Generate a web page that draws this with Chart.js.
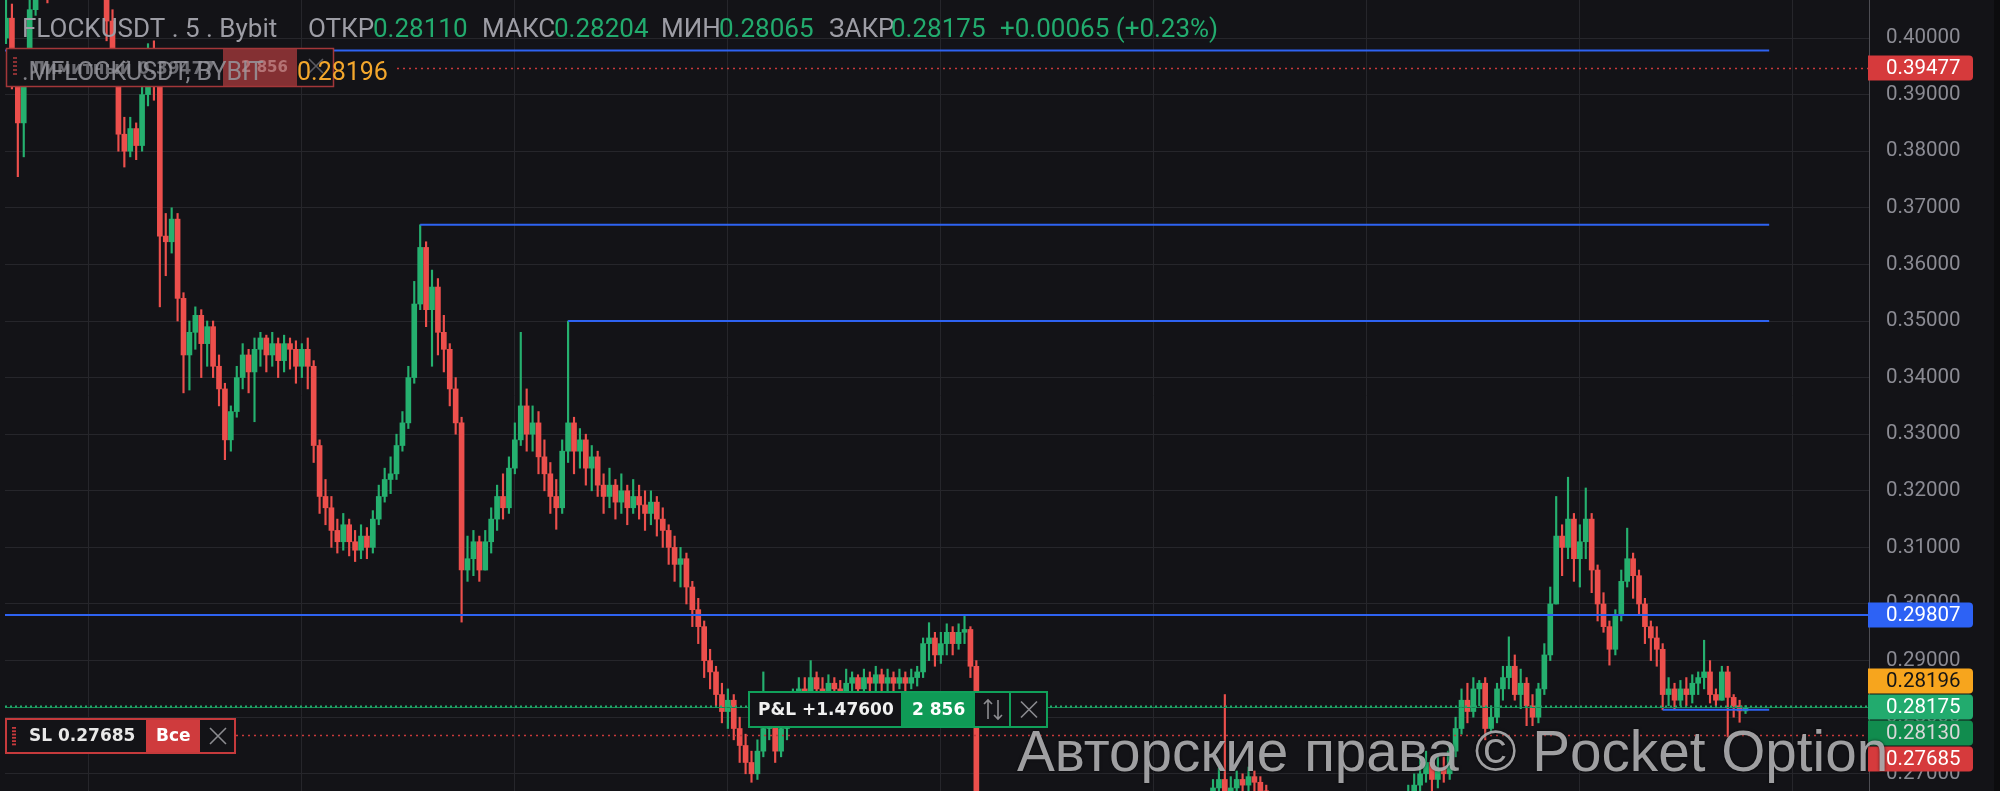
<!DOCTYPE html>
<html>
<head>
<meta charset="utf-8">
<script src="https://cdn.jsdelivr.net/npm/chart.js@4.4.0/dist/chart.umd.min.js"></script>
<style>
  html, body { margin: 0; padding: 0; background: #131317; }
  canvas { display: block; }
</style>
</head>
<body>
<canvas id="chart" width="2000" height="791"></canvas>
<script>
/* FLOCKUSDT candles.
   Prices are stored in units of 0.0001; open of a candle = previous close. */
const FIRST_OPEN = 4000;

const CLOSE = [
  4035, 3930, 3850, 3960, 4050, 4090, 4120, 4085, 4110, 4140,
  4160, 4130, 4150, 4170, 4140, 4120, 4095, 4030, 3960, 3830,
  3800, 3840, 3810, 3900, 3950, 3930, 3650, 3640, 3680, 3540,
  3440, 3480, 3510, 3460, 3490, 3420, 3380, 3290, 3340, 3400,
  3440, 3410, 3450, 3470, 3440, 3460, 3430, 3460, 3450, 3420,
  3450, 3420, 3280, 3190, 3170, 3130, 3110, 3140, 3110, 3095,
  3120, 3100, 3150, 3190, 3220, 3230, 3280, 3320, 3400, 3530,
  3630, 3520, 3560, 3480, 3450, 3380, 3320, 3060, 3080, 3110,
  3060, 3110, 3150, 3190, 3170, 3240, 3290, 3350, 3300, 3320,
  3260, 3230, 3190, 3170, 3270, 3320, 3270, 3290, 3240, 3260,
  3210, 3190, 3210, 3180, 3200, 3170, 3190, 3175, 3160, 3180,
  3150, 3130, 3100, 3070, 3080, 3030, 2990, 2960, 2900, 2880,
  2840, 2810, 2830, 2780, 2750, 2720, 2700, 2740, 2780, 2800,
  2740, 2780, 2800, 2830, 2850, 2840, 2870, 2850, 2840, 2860,
  2850, 2840, 2860, 2870, 2850, 2870, 2860, 2875, 2860, 2870,
  2860, 2870, 2860, 2870, 2880, 2930, 2940, 2910, 2930, 2950,
  2930, 2950, 2955, 2890, 2640, 2620, 2600, 2580, 2590, 2570,
  2560, 2580, 2600, 2590, 2610, 2630, 2620, 2600, 2590, 2610,
  2620, 2640, 2630, 2610, 2600, 2620, 2640, 2650, 2630, 2620,
  2640, 2655, 2650, 2640, 2630, 2650, 2660, 2645, 2635, 2650,
  2660, 2655, 2645, 2660, 2675, 2690, 2650, 2675, 2690, 2680,
  2695, 2685, 2670, 2655, 2640, 2630, 2620, 2610, 2600, 2590,
  2605, 2595, 2580, 2590, 2600, 2610, 2620, 2610, 2625, 2635,
  2630, 2640, 2650, 2645, 2655, 2660, 2650, 2665, 2680, 2700,
  2720, 2690, 2710, 2700, 2740, 2780, 2830, 2810, 2850, 2860,
  2780, 2800, 2850, 2870, 2890, 2840, 2860, 2820, 2800, 2850,
  2910, 3000, 3120, 3100, 3150, 3080, 3110, 3150, 3060, 3000,
  2960, 2920, 2980, 3040, 3080, 3050, 3000, 2960, 2940, 2920,
  2840, 2850, 2830, 2850, 2840, 2860, 2870, 2880, 2840, 2830,
  2880, 2835, 2820, 2811, 2817.5
];

const HIGH = [
  4075, 4060, 3955, 3980, 4090, 4110, 4140, 4130, 4125, 4160,
  4185, 4170, 4170, 4190, 4180, 4150, 4130, 4110, 4050, 3980,
  3860, 3860, 3850, 3920, 3990, 3995, 3940, 3690, 3700, 3690,
  3550, 3500, 3525, 3520, 3500, 3500, 3440, 3390, 3350, 3420,
  3460, 3450, 3470, 3480, 3475, 3480, 3470, 3475, 3470, 3465,
  3460, 3470, 3430, 3290, 3220, 3190, 3150, 3160, 3150, 3130,
  3140, 3135, 3165, 3210, 3240, 3260, 3300, 3340, 3420, 3570,
  3670, 3640, 3590, 3575, 3510, 3460, 3400, 3330, 3120, 3130,
  3120, 3130, 3170, 3210, 3230, 3260, 3320, 3480, 3380, 3350,
  3340, 3290, 3250, 3220, 3290, 3500, 3330, 3310, 3300, 3280,
  3270, 3230, 3240, 3220, 3230, 3210, 3220, 3210, 3200, 3200,
  3190, 3170, 3140, 3120, 3100, 3090, 3040, 3010, 2970, 2920,
  2890, 2860, 2850, 2840, 2800, 2770, 2740, 2760, 2880, 2830,
  2810, 2800, 2820, 2850, 2870, 2870, 2900, 2880, 2870, 2875,
  2870, 2865, 2885, 2880, 2875, 2885, 2880, 2890, 2885, 2885,
  2880, 2885, 2880, 2885, 2890, 2940, 2967, 2950, 2950, 2965,
  2960, 2965, 2980.7, 2960, 2900, 2650, 2635, 2610, 2605, 2600,
  2585, 2595, 2615, 2620, 2625, 2645, 2640, 2630, 2610, 2625,
  2635, 2655, 2650, 2640, 2620, 2635, 2655, 2665, 2660, 2640,
  2655, 2665, 2668, 2660, 2650, 2662, 2668, 2665, 2655, 2662,
  2668, 2668, 2665, 2668, 2690, 2710, 2840, 2695, 2705, 2700,
  2712, 2705, 2695, 2680, 2665, 2650, 2640, 2630, 2620, 2610,
  2620, 2615, 2600, 2605, 2615, 2630, 2640, 2635, 2640, 2650,
  2650, 2655, 2665, 2662, 2668, 2668, 2668, 2680, 2700, 2730,
  2740, 2730, 2730, 2730, 2750, 2800, 2850, 2860, 2870, 2865,
  2870, 2820, 2860, 2890, 2942, 2910, 2885, 2870, 2840, 2860,
  2930, 3030, 3190, 3140, 3224, 3160, 3140, 3205, 3160, 3069,
  3020, 2970, 2990, 3060, 3134, 3090, 3060, 3010, 2970, 2960,
  2930, 2870, 2860, 2865, 2870, 2875, 2880, 2936, 2900, 2850,
  2890, 2890, 2840, 2830, 2820.4
];

const LOW = [
  3990, 3910, 3755, 3790, 3950, 4040, 4080, 4062, 4075, 4100,
  4130, 4110, 4120, 4140, 4120, 4100, 4075, 3995, 3940, 3800,
  3772, 3790, 3785, 3800, 3880, 3890, 3525, 3580, 3620, 3500,
  3373, 3378, 3450, 3400, 3420, 3400, 3350, 3255, 3270, 3330,
  3380, 3373, 3322, 3420, 3410, 3420, 3400, 3410, 3415, 3390,
  3400, 3380, 3250, 3160, 3140, 3100, 3090, 3095, 3085, 3075,
  3080, 3080, 3090, 3140, 3180, 3195, 3220, 3270, 3310, 3390,
  3520, 3490, 3420, 3440, 3410, 3350, 3300, 2968, 3040, 3050,
  3040, 3060, 3090, 3130, 3150, 3160, 3230, 3280, 3270, 3270,
  3230, 3200, 3160, 3132, 3160, 3250, 3230, 3240, 3210, 3200,
  3190, 3160, 3170, 3150, 3160, 3140, 3160, 3150, 3130, 3140,
  3120, 3100, 3070, 3040, 3030, 3000, 2960, 2930, 2870, 2850,
  2820, 2790, 2780, 2760, 2720, 2700, 2685, 2690, 2730, 2760,
  2720, 2730, 2760, 2790, 2810, 2810, 2830, 2820, 2810, 2820,
  2820, 2810, 2830, 2840, 2830, 2840, 2830, 2840, 2835, 2840,
  2840, 2850, 2845, 2850, 2855, 2870, 2900, 2890, 2895, 2910,
  2910, 2920, 2930, 2870, 2620, 2600, 2585, 2565, 2570, 2555,
  2545, 2550, 2570, 2575, 2580, 2600, 2605, 2590, 2575, 2585,
  2600, 2610, 2615, 2600, 2585, 2595, 2615, 2630, 2620, 2605,
  2615, 2630, 2635, 2625, 2615, 2625, 2640, 2630, 2620, 2630,
  2640, 2640, 2630, 2640, 2650, 2665, 2630, 2640, 2660, 2665,
  2670, 2665, 2650, 2640, 2625, 2615, 2600, 2590, 2580, 2570,
  2580, 2575, 2560, 2570, 2580, 2590, 2600, 2595, 2600, 2615,
  2615, 2620, 2630, 2630, 2635, 2640, 2635, 2645, 2655, 2665,
  2685, 2665, 2675, 2685, 2690, 2730, 2770, 2790, 2800, 2820,
  2760, 2775, 2790, 2830, 2850, 2830, 2815, 2785, 2785, 2790,
  2840, 2900, 3000, 3050, 3080, 3040, 3030, 3080, 3020, 2970,
  2950, 2892, 2910, 2970, 3030, 3010, 2980, 2930, 2900, 2890,
  2813, 2820, 2815, 2820, 2820, 2825, 2840, 2850, 2825, 2820,
  2830, 2765, 2800, 2791, 2806.5
];

/* Axis ticks (price) and vertical grid marks (candle index, every 6 hours) */
const Y_TICKS = [0.27, 0.28, 0.29, 0.30, 0.31, 0.32, 0.33, 0.34, 0.35, 0.36, 0.37, 0.38, 0.39, 0.40];
const X_GRID  = [14, 50, 86, 122, 158, 194, 230, 266, 302];

/* Horizontal levels drawn on the chart (price, from / to candle index) */
const LEVEL_PRICE = [0.39778, 0.36700, 0.35000, 0.29807, 0.28130];
const LEVEL_FROM  = [-1, 70, 95, -1, 280];
const LEVEL_TO    = [298, 298, 298, 330, 298];

/* Orders / position */
const LIMIT_PRICE = 0.39477;
const SL_PRICE    = 0.27685;
const ENTRY_PRICE = 0.28196;
const QTY         = '2 856';
const PNL         = '+1.47600';
const TAG_PRICES  = [0.39477, 0.29807, 0.28196, 0.28175, 0.28130, 0.27685];

const SYMBOL = 'FLOCKUSDT . 5 . Bybit';
const LAST = { open: 0.28110, high: 0.28204, low: 0.28065, close: 0.28175 };

/* ── colours ─────────────────────────────────────────────── */
const BG = '#131317';
const GRID = '#26262b';
const UP = '#25b06f';
const DOWN = '#ec4f4c';
const BLUE = '#2e63f2';

/* ── build candle datasets ───────────────────────────────── */
const bodies = [], wicks = [], colors = [];
CLOSE.forEach((c, i) => {
  const o = i ? CLOSE[i - 1] : FIRST_OPEN;
  bodies.push({ x: i, y: [o / 1e4, c / 1e4] });
  wicks.push({ x: i, y: [LOW[i] / 1e4, HIGH[i] / 1e4] });
  colors.push(c >= o ? UP : DOWN);
});

const levelSets = LEVEL_PRICE.map((p, k) => ({
  type: 'line',
  data: [{ x: LEVEL_FROM[k], y: p }, { x: LEVEL_TO[k], y: p }],
  borderColor: BLUE,
  borderWidth: 2,
  pointRadius: 0,
  order: 0,
}));

/* ── overlay helpers ─────────────────────────────────────── */
function hLine(ctx, x1, x2, y, color, width, dash) {
  ctx.save();
  ctx.strokeStyle = color;
  ctx.lineWidth = width;
  ctx.setLineDash(dash || []);
  ctx.beginPath();
  ctx.moveTo(x1, y);
  ctx.lineTo(x2, y);
  ctx.stroke();
  ctx.restore();
}

function cross(ctx, cx, cy, r, color) {
  ctx.save();
  ctx.strokeStyle = color;
  ctx.lineWidth = 1.6;
  ctx.beginPath();
  ctx.moveTo(cx - r, cy - r); ctx.lineTo(cx + r, cy + r);
  ctx.moveTo(cx + r, cy - r); ctx.lineTo(cx - r, cy + r);
  ctx.stroke();
  ctx.restore();
}

function txt(ctx, s, x, y, font, color, base) {
  ctx.font = font;
  ctx.fillStyle = color;
  ctx.textBaseline = base || 'alphabetic';
  ctx.fillText(s, x, y);
}

const f5 = v => v.toFixed(5);

const overlay = {
  id: 'overlay',
  beforeDraw(chart) {
    const { ctx, width, height } = chart;
    ctx.save();
    ctx.fillStyle = BG;
    ctx.fillRect(0, 0, width, height);
    ctx.restore();
  },
  afterDatasetsDraw(chart) {
    const { ctx, chartArea: a, scales: { y } } = chart;
    // position line (current price)
    const yc = Math.round(y.getPixelForValue(LAST.close)) + 0.5;
    hLine(ctx, a.left, a.right, yc, '#158a52', 1);
    hLine(ctx, a.left, a.right, yc - 1, '#22ab6e', 2, [2, 3]);
    // limit order and stop loss lines
    hLine(ctx, 397, a.right, Math.round(y.getPixelForValue(LIMIT_PRICE)) + 0.5, '#c8393b', 1.5, [2, 4]);
    hLine(ctx, 236, a.right, Math.round(y.getPixelForValue(SL_PRICE)) + 0.5, '#c8393b', 1.5, [2, 4]);
  },
  afterDraw(chart) {
    const { ctx, chartArea: a, scales: { y } } = chart;
    ctx.save();

    /* header */
    const grey = '#9d9da5', green = '#22ab6e', hf = '26px Roboto';
    const chg = LAST.close - LAST.open;
    const pct = chg / LAST.open * 100;
    const head = [
      [SYMBOL, 22, grey],
      ['ОТКР', 308, grey], [f5(LAST.open), 373, green],
      ['МАКС', 482, grey], [f5(LAST.high), 554, green],
      ['МИН', 661, grey], [f5(LAST.low), 719, green],
      ['ЗАКР', 829, grey], [f5(LAST.close), 891, green],
      [(chg >= 0 ? '+' : '') + f5(chg) + ' (' + (pct >= 0 ? '+' : '') + pct.toFixed(2) + '%)', 1000, green],
    ];
    head.forEach(([s, x, c]) => txt(ctx, s, x, 37, hf, c));

    /* limit-order widget (top-left) */
    ctx.fillStyle = BG;
    ctx.fillRect(6, 48, 328, 39);
    ctx.fillStyle = '#843033';
    ctx.fillRect(223, 48, 74, 39);
    ctx.strokeStyle = '#a33739';
    ctx.lineWidth = 1.5;
    ctx.strokeRect(6.5, 48.5, 327, 38);
    ctx.fillStyle = '#8a3033';
    for (let k = 0; k < 5; k++) ctx.fillRect(13, 57 + k * 4, 4, 2);
    txt(ctx, 'Лимитный ' + f5(LIMIT_PRICE), 31, 74, 'bold 17px "DejaVu Sans"', '#6c6c72');
    txt(ctx, QTY, 241, 72, 'bold 15px "DejaVu Sans"', 'rgba(220,170,170,0.55)');
    cross(ctx, 316, 66, 7, '#5c5c62');
    txt(ctx, '.MFLOCKUSDT, BYBIT', 22, 80, '25px Roboto', 'rgba(150,150,158,0.85)');
    txt(ctx, f5(ENTRY_PRICE), 297, 80, '25px Roboto', '#f3a72c');

    /* stop-loss widget (bottom-left) */
    const sy = 718, sh = 36;
    ctx.fillStyle = BG;
    ctx.fillRect(5, sy, 231, sh);
    ctx.fillStyle = '#cf3b3d';
    ctx.fillRect(146, sy, 54, sh);
    ctx.strokeStyle = '#c53a3c';
    ctx.lineWidth = 2;
    ctx.strokeRect(6, sy + 1, 229, sh - 2);
    ctx.fillStyle = '#c53a3c';
    for (let k = 0; k < 6; k++) ctx.fillRect(12, sy + 9 + k * 3.3, 4, 1.8);
    txt(ctx, 'SL ' + f5(SL_PRICE), 29, sy + sh / 2 + 1, 'bold 17px "DejaVu Sans"', '#e8e8e8', 'middle');
    txt(ctx, 'Все', 156, sy + sh / 2 + 1, 'bold 17px "DejaVu Sans"', '#ffffff', 'middle');
    cross(ctx, 218, sy + sh / 2, 8, '#8c8c90');

    /* P&L widget */
    const px = 748, py = 691, pw = 300, ph = 37;
    ctx.fillStyle = BG;
    ctx.fillRect(px, py, pw, ph);
    ctx.fillStyle = '#0f9a56';
    ctx.fillRect(901, py, 74, ph);
    ctx.strokeStyle = '#10a05a';
    ctx.lineWidth = 2;
    ctx.strokeRect(px + 1, py + 1, pw - 2, ph - 2);
    ctx.beginPath();
    ctx.moveTo(1010, py); ctx.lineTo(1010, py + ph);
    ctx.stroke();
    txt(ctx, 'P&L ' + PNL, 758, py + ph / 2 + 1, 'bold 17px "DejaVu Sans"', '#f0f0f0', 'middle');
    txt(ctx, QTY, 912, py + ph / 2 + 1, 'bold 17px "DejaVu Sans"', '#ffffff', 'middle');
    // up/down arrows
    ctx.strokeStyle = '#8c8c90';
    ctx.lineWidth = 1.6;
    ctx.beginPath();
    ctx.moveTo(988, py + 28); ctx.lineTo(988, py + 9);
    ctx.moveTo(984, py + 13); ctx.lineTo(988, py + 9); ctx.lineTo(992, py + 13);
    ctx.moveTo(998, py + 9); ctx.lineTo(998, py + 28);
    ctx.moveTo(994, py + 24); ctx.lineTo(998, py + 28); ctx.lineTo(1002, py + 24);
    ctx.stroke();
    cross(ctx, 1029, py + ph / 2, 8, '#8c8c90');

    /* price tags on the axis, stacked so they do not overlap */
    const tagStyle = [
      ['#d63a3c', '#ffffff'], ['#2d62f5', '#ffffff'], ['#f7a51d', '#151515'],
      ['#22ab6e', '#ffffff'], ['#118c4e', '#d8d8d8'], ['#d63a3c', '#ffffff'],
    ];
    const anchor = TAG_PRICES.indexOf(LAST.close);
    const ty = TAG_PRICES.map(p => y.getPixelForValue(p));
    for (let k = anchor - 1; k >= 0; k--) ty[k] = Math.min(ty[k], ty[k + 1] - 26);
    for (let k = anchor + 1; k < ty.length; k++) ty[k] = Math.max(ty[k], ty[k - 1] + 26);
    TAG_PRICES.forEach((p, k) => {
      const yc = Math.round(ty[k]);
      ctx.fillStyle = tagStyle[k][0];
      ctx.beginPath();
      ctx.roundRect(a.right - 1, yc - 12.5, 105, 25, [0, 4, 4, 0]);
      ctx.fill();
      txt(ctx, f5(p), a.right + 17, yc + 1, '20.5px Roboto', tagStyle[k][1], 'middle');
    });

    ctx.fillStyle = '#0c0c0e';
    ctx.fillRect(1994, 0, 6, chart.height);

    /* watermark */
    const mark = 'Авторские права © Pocket Option';
    ctx.font = '60px "Liberation Sans"';
    const fs = 60 * 871 / ctx.measureText(mark).width;
    ctx.shadowColor = 'rgba(0,0,0,0.75)';
    ctx.shadowBlur = 3;
    txt(ctx, mark, 1017, 771, fs.toFixed(1) + 'px "Liberation Sans"', 'rgba(180,180,182,0.88)');
    ctx.restore();
  },
};

/* ── chart ───────────────────────────────────────────────── */
new Chart(document.getElementById('chart'), {
  type: 'bar',
  data: {
    datasets: [
      ...levelSets,
      { type: 'bar', data: bodies, backgroundColor: colors, barThickness: 5, minBarLength: 1,
        grouped: false, borderWidth: 0, order: 1 },
      { type: 'bar', data: wicks, backgroundColor: colors, barThickness: 1.5,
        grouped: false, borderWidth: 0, order: 2 },
    ],
  },
  options: {
    responsive: false,
    animation: false,
    events: [],
    layout: { padding: { left: 5, right: 0, top: 0, bottom: 0 } },
    plugins: { legend: { display: false }, tooltip: { enabled: false } },
    scales: {
      x: {
        type: 'linear',
        min: -0.17,
        max: 314.87,
        offset: false,
        grid: { color: GRID, drawTicks: false, offset: false },
        border: { display: false },
        ticks: { display: false },
        afterBuildTicks: s => { s.ticks = X_GRID.map(v => ({ value: v })); },
        afterFit: s => { s.height = 0; s.paddingLeft = 0; s.paddingRight = 0; },
      },
      y: {
        position: 'right',
        min: 0.266961,
        max: 0.406714,
        grid: { color: GRID, drawTicks: false },
        border: { display: true, color: '#4d4d53', width: 1 },
        ticks: {
          color: '#8b8b93',
          padding: 17,
          font: { family: 'Roboto', size: 20.5 },
          callback: v => v.toFixed(5),
        },
        afterBuildTicks: s => { s.ticks = Y_TICKS.map(v => ({ value: v })); },
        afterFit: s => { s.width = 131; s.paddingTop = 0; s.paddingBottom = 0; },
      },
    },
  },
  plugins: [overlay],
});
</script>
</body>
</html>
